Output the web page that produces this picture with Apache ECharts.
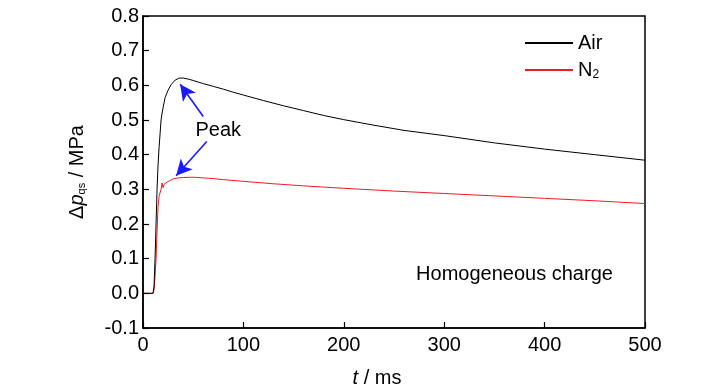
<!DOCTYPE html>
<html><head><meta charset="utf-8">
<script src="https://cdn.jsdelivr.net/npm/echarts@6/dist/echarts.min.js"></script>
<style>html,body{margin:0;padding:0;background:#fff}#c{width:728px;height:390px}</style>
</head><body><div id="c"></div>
<script>
// Time (ms) and quasi-static pressure rise (MPa)
var airT = [0,5,10,11,12,13,14,15,16,17,18,19,20,22,25,28,32,36,40,45,50,60,70,80,90,100,120,140,160,180,200,230,260,300,350,400,450,500];
var airP = [0,0,0,0.02,0.1,0.2,0.3,0.37,0.42,0.46,0.5,0.52,0.535,0.565,0.586,0.602,0.615,0.621,0.621,0.618,0.614,0.605,0.597,0.589,0.58,0.572,0.556,0.541,0.527,0.513,0.501,0.485,0.47,0.455,0.434,0.416,0.4,0.384];
var n2T = [0,5,10,11,12,13,14,15,16,18,19,20,21,22,24,26,30,35,40,50,60,70,80,100,130,160,200,250,300,350,400,450,500];
var n2P = [0,0,0,0.01,0.05,0.1,0.18,0.25,0.28,0.3,0.318,0.305,0.315,0.317,0.321,0.324,0.33,0.333,0.334,0.335,0.333,0.331,0.328,0.323,0.316,0.31,0.303,0.295,0.288,0.281,0.274,0.267,0.259];
var xTicks = {min:0, max:500, interval:100};
var yTicks = {min:-0.1, max:0.8, interval:0.1};
var seriesNames = ['Air','N2'];
// annotation anchor points in data units
var peakLabel = [75, 0.471];
var arrowAir = [[60, 0.51],[37, 0.603]];
var arrowN2 = [[63.5, 0.438],[33, 0.339]];
var noteLabel = [370, 0.055];

function zip(a,b){return a.map(function(v,i){return [v,b[i]];});}
var FONT = 'Liberation Sans';
var chart = echarts.init(document.getElementById('c'));
chart.setOption({
  animation:false,
  backgroundColor:'#fff',
  textStyle:{fontFamily:FONT},
  grid:{left:143,right:83,top:16,bottom:62,show:true,borderColor:'#000',borderWidth:1.5,backgroundColor:'transparent',
        containLabel:false,outerBoundsMode:'none'},
  legend:{
    orient:'vertical', left:520, top:28, itemWidth:48, itemHeight:2, itemGap:6,
    icon:'rect',
    data:[{name:'Air',itemStyle:{color:'#000'}},{name:'N2',itemStyle:{color:'#ee1c25'}}],
    formatter:function(n){return n==='N2'?'{m|N}{s|2}':'{m|'+n+'}';},
    textStyle:{color:'#000',fontFamily:FONT,padding:[0,0,0,0],
      rich:{m:{fontSize:20,lineHeight:22,color:'#000',fontFamily:FONT},
            s:{fontSize:12,lineHeight:22,verticalAlign:'bottom',padding:[10,0,0,0],color:'#000',fontFamily:FONT}}}
  },
  xAxis:{type:'value',min:xTicks.min,max:xTicks.max,interval:xTicks.interval,
    axisLine:{show:true,onZero:false,lineStyle:{color:'#000',width:1.5}},
    axisTick:{show:true,inside:true,length:6,lineStyle:{color:'#000',width:1.2}},
    axisLabel:{color:'#000',fontSize:20,margin:7,fontFamily:FONT},
    splitLine:{show:false},
    name:'{i|t} / ms', nameLocation:'middle', nameGap:40,
    nameTextStyle:{padding:[0,34,0,0],verticalAlign:'top',rich:{i:{fontStyle:'italic',fontSize:20,color:'#000',fontFamily:FONT}},fontSize:20,color:'#000',fontFamily:FONT}
  },
  yAxis:{type:'value',min:yTicks.min,max:yTicks.max,interval:yTicks.interval,
    axisLine:{show:true,onZero:false,lineStyle:{color:'#000',width:1.5}},
    axisTick:{show:true,inside:true,length:6,lineStyle:{color:'#000',width:1.2}},
    axisLabel:{color:'#000',fontSize:20,margin:4,fontFamily:FONT,formatter:function(v){return v.toFixed(1);}},
    splitLine:{show:false},
    name:'Δ{i|p}{s|qs} / MPa', nameLocation:'middle', nameGap:56,
    nameTextStyle:{fontSize:20,color:'#000',fontFamily:FONT,
      rich:{i:{fontStyle:'italic',fontSize:20,color:'#000',fontFamily:FONT},
            s:{fontSize:11,color:'#000',fontFamily:FONT,verticalAlign:'bottom',padding:[8,0,0,0]}}}
  },
  series:[
    {name:'Air',type:'line',data:zip(airT,airP),showSymbol:false,symbol:'none',
     lineStyle:{color:'#000',width:1},itemStyle:{color:'#000'},z:3,
     markLine:{silent:true,symbol:['none','arrow'],symbolSize:[12,16],
       lineStyle:{color:'#1a1aff',width:1.6,type:'solid'},label:{show:false},
       data:[[{coord:arrowAir[0]},{coord:arrowAir[1]}],[{coord:arrowN2[0]},{coord:arrowN2[1]}]]},
     markPoint:{silent:true,symbol:'circle',symbolSize:0,
       label:{show:true,color:'#000',fontSize:20,fontFamily:FONT,position:'inside'},
       data:[{coord:peakLabel,value:'Peak',label:{formatter:'Peak'}},
             {coord:noteLabel,value:'Homogeneous charge',label:{formatter:'Homogeneous charge'}}]}
    },
    {name:'N2',type:'line',data:zip(n2T,n2P),showSymbol:false,symbol:'none',
     lineStyle:{color:'#ee1c25',width:1},itemStyle:{color:'#ee1c25'},z:2}
  ]
});
</script></body></html>
